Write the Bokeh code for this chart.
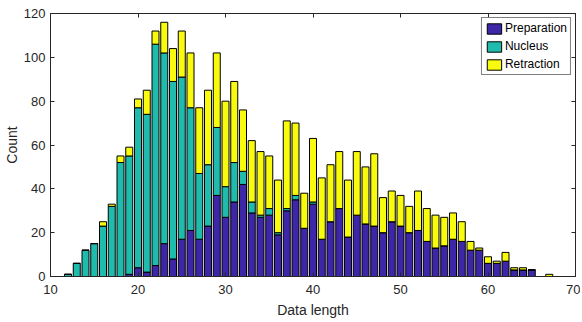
from bokeh.plotting import figure
from bokeh.models import (ColumnDataSource, LinearAxis, FixedTicker, Range1d,
                          CustomJSTickFormatter)
from bokeh.embed import file_html
from bokeh.resources import INLINE

lengths = list(range(12, 68))
preparation = [0, 0, 0, 0, 0, 0, 0, 1, 4, 2, 5, 15, 8, 17, 21, 17, 23, 37, 27, 34,
               42, 29, 27, 28, 19, 30, 35, 22, 33, 17, 25, 31, 18, 28, 24, 23, 20, 25,
               23, 20, 21, 16, 13, 14, 17, 16, 12, 12, 6, 6, 7, 3, 3, 3, 0, 0]
nucleus = [1, 6, 12, 15, 23, 32, 52, 54, 73, 72, 101, 87, 81, 74, 56, 30, 28, 31, 14, 18,
           6, 5, 1, 3, 1, 1, 2, 0, 1, 0, 0, 0, 0, 0, 0, 0, 0, 0,
           0, 0, 0, 0, 0, 0, 0, 0, 0, 0, 0, 0, 0, 0, 0, 0, 0, 0]
totals = [1, 6, 12, 15, 25, 33, 55, 59, 81, 85, 112, 116, 104, 112, 102, 77, 85, 102, 80, 89,
          76, 62, 57, 55, 44, 71, 70, 38, 63, 45, 51, 57, 44, 57, 50, 56, 36, 39,
          37, 32, 39, 31, 28, 27, 29, 25, 16, 13, 9, 7, 11, 4, 4, 3, 0, 1]
retraction = [t - p - n for t, p, n in zip(totals, preparation, nucleus)]

series = ["Preparation", "Nucleus", "Retraction"]
colors = ["#3e26a8", "#1fbcad", "#f9fb0e"]
x_ticks = [10, 20, 30, 40, 50, 60, 70]
y_ticks = [0, 20, 40, 60, 80, 100, 120]

source = ColumnDataSource(dict(x=lengths, Preparation=preparation,
                               Nucleus=nucleus, Retraction=retraction))

FONT = "Liberation Sans"
TXT = "#262626"

p = figure(width=580, height=320, output_backend="svg", toolbar_location=None,
           x_range=Range1d(10, 70), y_range=Range1d(0, 120),
           min_border_left=44, min_border_right=5, min_border_top=13,
           min_border_bottom=43)

p.vbar_stack(series, x="x", width=0.8, source=source, fill_color=colors,
             line_color="black", line_width=1, legend_label=series)

p.xgrid.visible = False
p.ygrid.visible = False
p.outline_line_color = TXT
p.outline_line_width = 1
p.background_fill_color = "white"

for ax in (p.xaxis[0], p.yaxis[0]):
    ax.major_tick_in = 4
    ax.major_tick_out = 0
    ax.minor_tick_in = 0
    ax.minor_tick_out = 0
    ax.major_label_text_font = FONT
    ax.major_label_text_font_size = "13px"
    ax.major_label_text_color = TXT
    ax.axis_label_text_font = FONT
    ax.axis_label_text_font_size = "14px"
    ax.axis_label_text_font_style = "normal"
    ax.axis_label_text_color = TXT
    ax.axis_line_color = TXT
    ax.major_tick_line_color = TXT

p.xaxis[0].ticker = FixedTicker(ticks=x_ticks)
p.yaxis[0].ticker = FixedTicker(ticks=y_ticks)
p.xaxis[0].axis_label = "Data length"
p.yaxis[0].axis_label = "Count"
p.xaxis[0].major_label_standoff = 8
p.yaxis[0].major_label_standoff = 5
p.xaxis[0].axis_label_standoff = 5
p.yaxis[0].axis_label_standoff = 1

blank = CustomJSTickFormatter(code="return ''")
top = LinearAxis(ticker=FixedTicker(ticks=x_ticks), formatter=blank,
                 major_tick_in=4, major_tick_out=0,
                 minor_tick_in=0, minor_tick_out=0,
                 major_label_standoff=0, axis_line_color=TXT,
                 major_tick_line_color=TXT)
right = LinearAxis(ticker=FixedTicker(ticks=y_ticks), formatter=blank,
                   major_tick_in=4, major_tick_out=0,
                   minor_tick_in=0, minor_tick_out=0,
                   major_label_standoff=0, axis_line_color=TXT,
                   major_tick_line_color=TXT)
p.add_layout(top, "above")
p.add_layout(right, "right")

lg = p.legend[0]
lg.location = "top_right"
lg.margin = 4
lg.padding = 3
lg.spacing = 4
lg.glyph_width = 18
lg.glyph_height = 13
lg.label_standoff = 2
lg.label_height = 13
lg.label_text_font = FONT
lg.label_text_font_size = "12px"
lg.label_text_color = "black"
lg.border_line_color = "black"
lg.border_line_width = 1
lg.background_fill_alpha = 1

open("out.html", "w").write(file_html(p, INLINE))
